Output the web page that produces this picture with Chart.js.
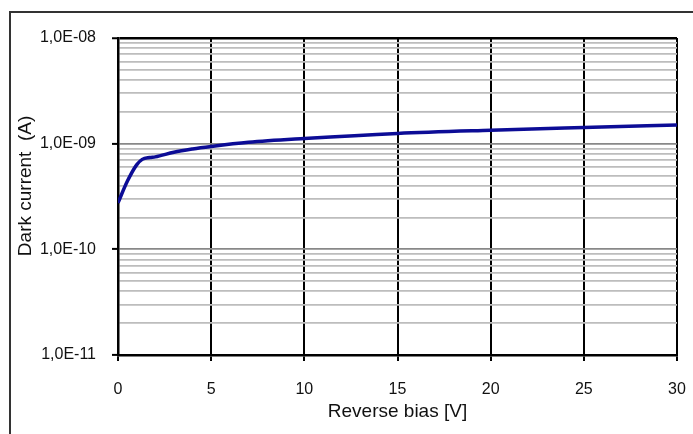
<!DOCTYPE html>
<html lang="en">
<head>
<meta charset="UTF-8">
<title>Dark current vs reverse bias</title>
<script src="https://cdn.jsdelivr.net/npm/chart.js"></script>
<style>
    html, body {
        margin: 0;
        padding: 0;
        background: #fff;
        overflow: hidden;
    }
    .frame {
        position: absolute;
        left: 9px;
        top: 11px;
        width: 800px;
        height: 600px;
        border: 2px solid #333;
    }
    .wrap {
        position: absolute;
        left: 0;
        top: 0;
        width: 693px;
        height: 434px;
    }
</style>
</head>
<body>
<div class="frame"></div>
<div class="wrap"><canvas id="darkChart" width="693" height="434"></canvas></div>

<script>
// reverse bias (V) and measured dark current (A)
const biasV       = [0, 0.5, 1, 1.3, 1.7, 2, 3, 4, 5, 7, 10, 15, 20, 25, 30];
const darkCurrent = [2.75e-10, 4.4e-10, 6.3e-10, 7.1e-10, 7.4e-10, 7.5e-10, 8.3e-10, 8.9e-10,
                     9.4e-10, 1.03e-9, 1.12e-9, 1.25e-9, 1.34e-9, 1.42e-9, 1.5e-9];

const xTicks = [0, 5, 10, 15, 20, 25, 30];
const yDecades = [1e-11, 1e-10, 1e-9, 1e-8];
const yTickLabels = ['1,0E-11', '1,0E-10', '1,0E-09', '1,0E-08'];

const FONT = "'Liberation Sans', Arial, sans-serif";

function decadeIndex(v) {
    return yDecades.findIndex(d => Math.abs(Math.log10(v) - Math.log10(d)) < 1e-6);
}

const ctx = document.getElementById('darkChart').getContext('2d');
new Chart(ctx, {
    type: 'line',
    data: {
        datasets: [{
            label: 'Dark current',
            data: biasV.map((v, i) => ({ x: v, y: darkCurrent[i] })),
            borderColor: '#0c0c96',
            borderWidth: 3.5,
            pointRadius: 0,
            cubicInterpolationMode: 'monotone',
            fill: false
        }]
    },
    options: {
        responsive: false,
        animation: false,
        layout: { padding: { top: 38, right: 16, left: 0, bottom: 0 } },
        plugins: {
            legend: { display: false },
            tooltip: { enabled: false }
        },
        scales: {
            x: {
                type: 'linear',
                min: 0,
                max: 30,
                afterBuildTicks: s => { s.ticks = xTicks.map(v => ({ value: v })); },
                // tick padding would otherwise be added to the right edge too
                afterFit: s => { s.height = 79; s.paddingRight = 0; s.paddingLeft = 0; },
                border: { color: '#000', width: 2.5 },
                grid: {
                    color: '#000',
                    lineWidth: 2,
                    tickColor: '#000',
                    tickLength: 6,
                    tickWidth: 2
                },
                ticks: {
                    autoSkip: false,
                    maxRotation: 0,
                    padding: 19,
                    color: '#111',
                    font: { family: FONT, size: 16 },
                    callback: v => String(v)
                },
                title: {
                    display: true,
                    text: 'Reverse bias [V]',
                    color: '#111',
                    font: { family: FONT, size: 19 },
                    padding: { top: 0, bottom: 11 }
                }
            },
            y: {
                type: 'logarithmic',
                z: -1,
                min: yDecades[0],
                max: yDecades[yDecades.length - 1],
                afterBuildTicks: s => {
                    const t = [];
                    for (let i = 0; i < yDecades.length - 1; i++) {
                        for (let m = 1; m <= 9; m++) t.push({ value: yDecades[i] * m });
                    }
                    t.push({ value: yDecades[yDecades.length - 1] });
                    s.ticks = t;
                },
                afterFit: s => { s.width = 118; },
                border: { color: '#000', width: 2.5 },
                grid: {
                    color: c => {
                        const v = c.tick ? c.tick.value : 0;
                        const k = decadeIndex(v);
                        if (k === yDecades.length - 1) return '#000';
                        if (k >= 0) return '#888';
                        return '#bdbdbd';
                    },
                    lineWidth: c => {
                        const k = decadeIndex(c.tick ? c.tick.value : 0);
                        return k === yDecades.length - 1 ? 2.5 : 1.8;
                    },
                    tickColor: c => decadeIndex(c.tick ? c.tick.value : 0) >= 0 ? '#000' : 'rgba(0,0,0,0)',
                    tickLength: 6,
                    tickWidth: 2
                },
                ticks: {
                    autoSkip: false,
                    padding: 16,
                    color: '#111',
                    font: { family: FONT, size: 16 },
                    callback: v => {
                        const k = decadeIndex(v);
                        return k >= 0 ? yTickLabels[k] : '';
                    }
                },
                title: {
                    display: true,
                    // leading spaces nudge the title up a little, as in the original
                    text: '    Dark current  (A)',
                    color: '#111',
                    font: { family: FONT, size: 19 },
                    padding: { top: 14, bottom: 0 }
                }
            }
        }
    }
});
</script>
</body>
</html>
